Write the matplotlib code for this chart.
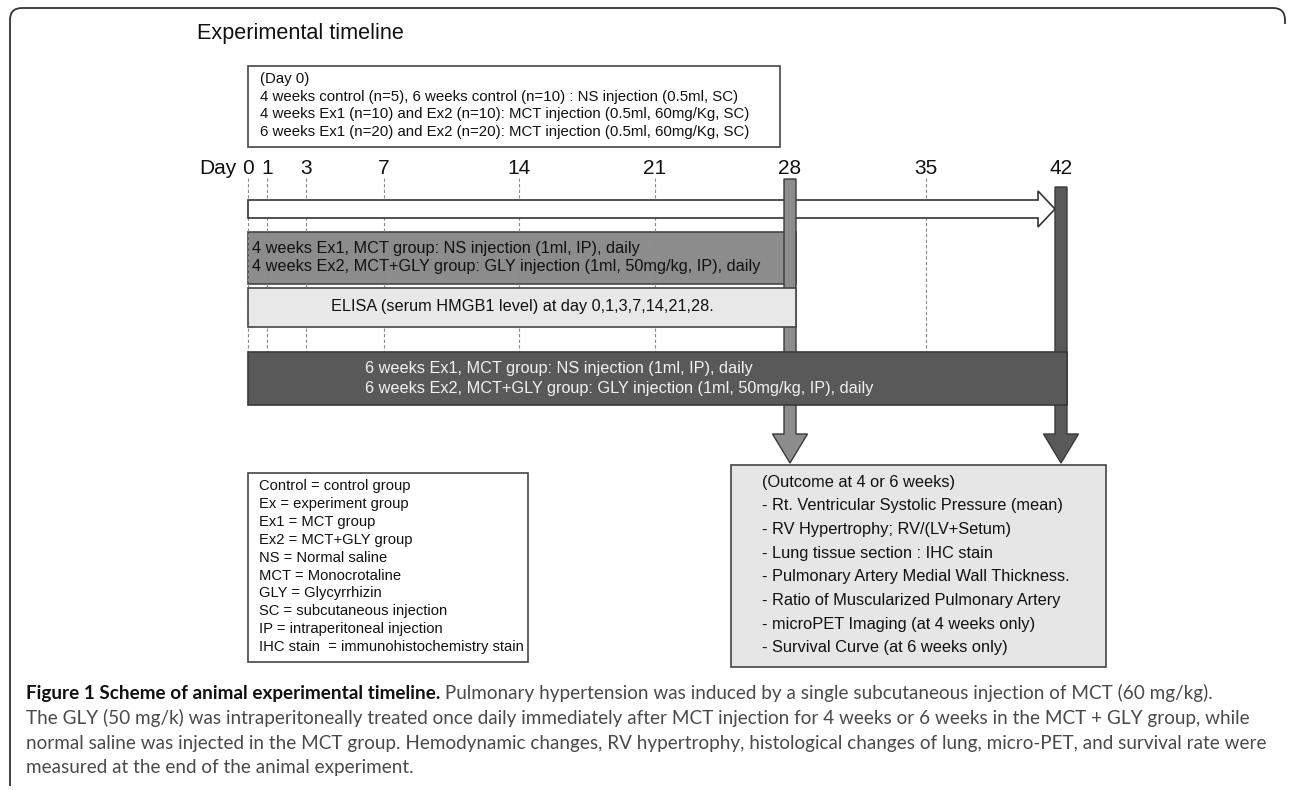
import matplotlib.pyplot as plt
from matplotlib.patches import Rectangle, Polygon, PathPatch
from matplotlib.path import Path

# timeline days
tick_days = [0, 1, 3, 7, 14, 21, 28, 35, 42]
guide_days = [0, 1, 3, 7, 14, 21, 35]
week4_end = 28
week6_end = 42

title = "Experimental timeline"
day0_lines = [
    "(Day 0)",
    "4 weeks control (n=5), 6 weeks control (n=10) : NS injection (0.5ml, SC)",
    "4 weeks Ex1 (n=10) and Ex2 (n=10): MCT injection (0.5ml, 60mg/Kg, SC)",
    "6 weeks Ex1 (n=20) and Ex2 (n=20): MCT injection (0.5ml, 60mg/Kg, SC)",
]
week4_lines = [
    "4 weeks Ex1, MCT group: NS injection (1ml, IP), daily",
    "4 weeks Ex2, MCT+GLY group: GLY injection (1ml, 50mg/kg, IP), daily",
]
elisa_text = "ELISA (serum HMGB1 level) at day 0,1,3,7,14,21,28."
week6_lines = [
    "6 weeks Ex1, MCT group: NS injection (1ml, IP), daily",
    "6 weeks Ex2, MCT+GLY group: GLY injection (1ml, 50mg/kg, IP), daily",
]
legend_lines = [
    "Control = control group",
    "Ex = experiment group",
    "Ex1 = MCT group",
    "Ex2 = MCT+GLY group",
    "NS = Normal saline",
    "MCT = Monocrotaline",
    "GLY = Glycyrrhizin",
    "SC = subcutaneous injection",
    "IP = intraperitoneal injection",
    "IHC stain  = immunohistochemistry stain",
]
outcome_lines = [
    "(Outcome at 4 or 6 weeks)",
    "- Rt. Ventricular Systolic Pressure (mean)",
    "- RV Hypertrophy; RV/(LV+Setum)",
    "- Lung tissue section : IHC stain",
    "- Pulmonary Artery Medial Wall Thickness.",
    "- Ratio of Muscularized Pulmonary Artery",
    "- microPET Imaging (at 4 weeks only)",
    "- Survival Curve (at 6 weeks only)",
]
caption_bold = "Figure 1 Scheme of animal experimental timeline."
caption_lines = [
    " Pulmonary hypertension was induced by a single subcutaneous injection of MCT (60 mg/kg).",
    "The GLY (50 mg/k) was intraperitoneally treated once daily immediately after MCT injection for 4 weeks or 6 weeks in the MCT + GLY group, while",
    "normal saline was injected in the MCT group. Hemodynamic changes, RV hypertrophy, histological changes of lung, micro-PET, and survival rate were",
    "measured at the end of the animal experiment.",
]

plt.rcParams['font.family'] = ['Liberation Sans', 'DejaVu Sans']

fig = plt.figure(figsize=(12.9, 7.9), dpi=100)

# timeline axes: x in days, y in pixels (drawn first, underneath)
px_day = (790 - 248) / 28
tl = fig.add_axes([0, 0, 1, 1])
tl.set_xlim(-248 / px_day, (1290 - 248) / px_day)
tl.set_ylim(790, 0)
tl.axis('off')
tl.set_zorder(0)

# page axes, pixel units with y going down (on top)
ax = fig.add_axes([0, 0, 1, 1])
ax.set_xlim(0, 1290)
ax.set_ylim(790, 0)
ax.axis('off')
ax.set_zorder(1)
ax.patch.set_alpha(0)

bw = 6 / px_day        # half width of the day bars
hh = 17.5 / px_day     # half width of down arrow heads
edge = '#454545'
mid_gray = '#8c8c8c'
dark_gray = '#595959'

# outer frame
verts = [(10, 786), (10, 20), (10, 8), (22, 8), (1273, 8), (1285, 8), (1285, 20), (1285, 24)]
codes = [Path.MOVETO, Path.LINETO, Path.CURVE3, Path.CURVE3, Path.LINETO,
         Path.CURVE3, Path.CURVE3, Path.LINETO]
ax.add_patch(PathPatch(Path(verts, codes), fc='none', ec='#333333', lw=1.3))

ax.text(197, 33, title, fontsize=15.6, ha='left', va='center', color='#111111')

# day 0 box
ax.add_patch(Rectangle((248, 66), 532, 81, fc='white', ec=edge, lw=1.2))
for i, line in enumerate(day0_lines):
    ax.text(260, 79 + i * 17.7, line, fontsize=10.8, va='center', color='#111111')

# day labels
for d in tick_days:
    t = tl.text(d, 168, str(d), fontsize=15, ha='center', va='center', color='#111111')
    if d == 0:
        tl.annotate("Day", xy=(0, 0.5), xycoords=t, xytext=(-4, 0),
                    textcoords='offset points', ha='right', va='center',
                    fontsize=15, color='#111111')

# 4 week box
tl.add_patch(Rectangle((0, 232), week4_end + bw, 52, fc=mid_gray, ec=edge, lw=1.2, zorder=2))
for i, line in enumerate(week4_lines):
    tl.text(0.2, 249 + i * 18, line, fontsize=11.7, va='center', color='#111111', zorder=6)

# dashed guides
tl.vlines(guide_days, 178, 352, colors='#8a8a8a', linestyles=(0, (3, 2)), lw=0.8, zorder=3)

# white timeline arrow
tip = week6_end - bw
base = tip - 17 / px_day
tl.add_patch(Polygon([(0, 200), (base, 200), (base, 191), (tip, 209), (base, 227),
                      (base, 218), (0, 218)], closed=True, fc='white', ec='#333333',
                     lw=1.2, zorder=3.5))

# day bars with down arrows
for d, top, col in [(week4_end, 179, mid_gray), (week6_end, 187, dark_gray)]:
    tl.add_patch(Polygon([(d - bw, top), (d + bw, top), (d + bw, 434), (d + hh, 434),
                          (d, 463), (d - hh, 434), (d - bw, 434)], closed=True,
                         fc=col, ec='#3a3a3a', lw=1.0, zorder=4))

# ELISA box
tl.add_patch(Rectangle((0, 288), week4_end + bw, 39, fc='#e8e8e8', ec=edge, lw=1.2, zorder=5))
tl.text((week4_end + bw) / 2, 307, elisa_text, fontsize=11.7, ha='center', va='center',
        color='#111111', zorder=6)

# 6 week box
tl.add_patch(Rectangle((0, 352), week6_end + bw, 53, fc=dark_gray, ec='#3a3a3a', lw=1.2, zorder=5))
for i, line in enumerate(week6_lines):
    ax.text(365, 368 + i * 20, line, fontsize=11.7, va='center', color='#f2f2f2')

# legend box
ax.add_patch(Rectangle((248, 473), 280, 189, fc='white', ec=edge, lw=1.2))
for i, line in enumerate(legend_lines):
    ax.text(259, 486 + i * 17.9, line, fontsize=10.6, va='center', color='#111111')

# outcome box
ax.add_patch(Rectangle((731, 465), 375, 202, fc='#e6e6e6', ec=edge, lw=1.2))
for i, line in enumerate(outcome_lines):
    ax.text(762, 482 + i * 23.7, line, fontsize=11.8, va='center', color='#111111')

# caption
cap = ax.text(26, 693, caption_bold, fontsize=13.6, fontweight='bold', family='Lato',
              va='center', color='#111111')
ax.annotate(caption_lines[0], xy=(1, 0), xycoords=cap, ha='left', va='bottom',
            fontsize=13.6, family='Lato', color='#4a4a4a')
for i, line in enumerate(caption_lines[1:]):
    ax.text(26, 718 + i * 25, line, fontsize=13.6, family='Lato', va='center', color='#4a4a4a')

fig.savefig('out.png', dpi=100)
